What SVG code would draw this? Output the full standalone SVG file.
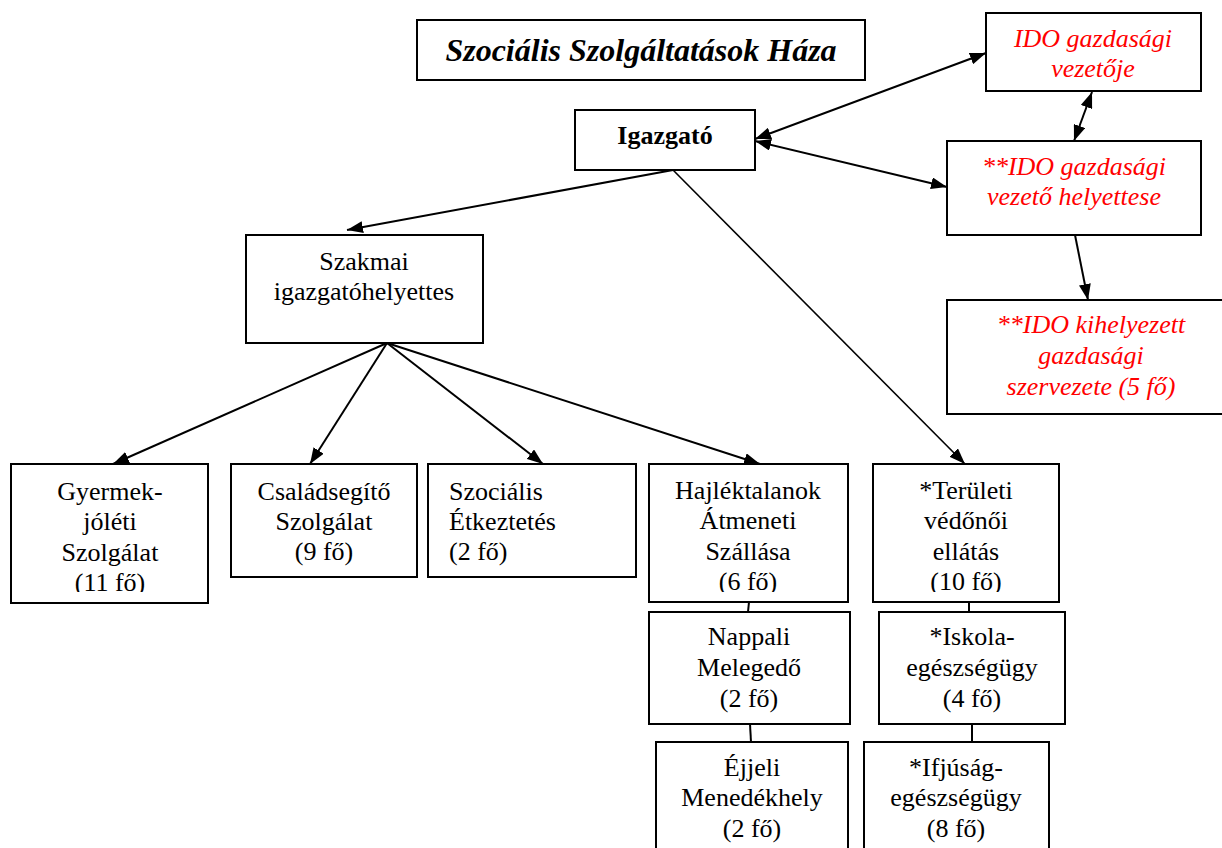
<svg xmlns="http://www.w3.org/2000/svg" width="1222" height="848" viewBox="0 0 1222 848">
<defs>
<marker id="ah" viewBox="0 0 16 12" refX="16" refY="6" markerWidth="16" markerHeight="12" markerUnits="userSpaceOnUse" orient="auto-start-reverse">
<path d="M0,0 L16,6 L0,12 z" fill="#000"/>
</marker>
<clipPath id="clipA"><rect x="0" y="460" width="1222" height="132"/></clipPath>
</defs>
<style>
.box{fill:#fff;stroke:#000;stroke-width:2}
.t{font-family:"Liberation Serif","Times New Roman",serif;font-size:26px;fill:#000;text-anchor:middle}
.r{fill:#ff0000;font-style:italic}
.b{font-weight:bold}
.l{text-anchor:start}
.c{stroke:#000;stroke-width:2;fill:none}
.ca{stroke:#000;stroke-width:2;fill:none;marker-end:url(#ah)}
.cd{stroke:#000;stroke-width:2;fill:none;marker-start:url(#ah);marker-end:url(#ah)}
</style>
<rect width="1222" height="848" fill="#fff"/>

<g id="connectors">
<line class="cd" x1="755" y1="139" x2="986" y2="53"/>
<line class="cd" x1="755" y1="141" x2="947" y2="187"/>
<line class="cd" x1="1092" y1="92" x2="1074" y2="141"/>
<line class="ca" x1="1075" y1="235" x2="1088" y2="300"/>
<line class="ca" x1="673" y1="170" x2="347" y2="230"/>
<line class="ca" x1="673" y1="170" x2="965" y2="464" style="stroke-width:1.6"/>
<line class="ca" x1="387" y1="343" x2="113" y2="464"/>
<line class="ca" x1="387" y1="343" x2="310" y2="464"/>
<line class="ca" x1="387" y1="343" x2="543" y2="464"/>
<line class="ca" x1="387" y1="343" x2="760" y2="464"/>
<line class="c" x1="749" y1="602" x2="748" y2="612"/>
<line class="c" x1="750" y1="724" x2="751" y2="742"/>
<line class="c" x1="969" y1="602" x2="969" y2="612"/>
<line class="c" x1="972" y1="724" x2="972" y2="742"/>
</g>

<g id="title">
<rect class="box" x="417" y="20" width="448" height="60"/>
<text class="t b" x="641" y="61" style="font-style:italic;font-size:32px">Szociális Szolgáltatások Háza</text>
</g>

<g id="igazgato">
<rect class="box" x="575" y="110" width="180" height="60"/>
<text class="t b" x="665" y="144">Igazgató</text>
</g>

<g id="ido-vezeto">
<rect class="box" x="986" y="13" width="215" height="78"/>
<text class="t r" x="1093" y="47">IDO gazdasági</text>
<text class="t r" x="1093" y="77">vezetője</text>
</g>

<g id="ido-helyettes">
<rect class="box" x="947" y="141" width="254" height="94"/>
<text class="t r" x="1074" y="175">**IDO gazdasági</text>
<text class="t r" x="1074" y="205">vezető helyettese</text>
</g>

<g id="ido-kihelyezett">
<rect class="box" x="947" y="300" width="290" height="114"/>
<text class="t r" x="1091" y="333">**IDO kihelyezett</text>
<text class="t r" x="1091" y="364">gazdasági</text>
<text class="t r" x="1091" y="395">szervezete (5 fő)</text>
</g>

<g id="szakmai">
<rect class="box" x="246" y="235" width="237" height="108"/>
<text class="t" x="364" y="270">Szakmai</text>
<text class="t" x="364" y="300">igazgatóhelyettes</text>
</g>

<g id="gyermekjoleti">
<rect class="box" x="11" y="464" width="197" height="139"/>
<g clip-path="url(#clipA)">
<text class="t" x="110" y="500">Gyermek-</text>
<text class="t" x="110" y="530">jóléti</text>
<text class="t" x="110" y="561">Szolgálat</text>
<text class="t" x="110" y="591">(11 fő)</text>
</g>
</g>

<g id="csaladsegito">
<rect class="box" x="231" y="464" width="186" height="113"/>
<text class="t" x="324" y="500">Családsegítő</text>
<text class="t" x="324" y="530">Szolgálat</text>
<text class="t" x="324" y="560">(9 fő)</text>
</g>

<g id="szocialis-etkeztetes">
<rect class="box" x="428" y="464" width="208" height="113"/>
<text class="t l" x="449" y="500">Szociális</text>
<text class="t l" x="449" y="530">Étkeztetés</text>
<text class="t l" x="449" y="560">(2 fő)</text>
</g>

<g id="hajlektalanok">
<rect class="box" x="649" y="464" width="199" height="138"/>
<g clip-path="url(#clipA)">
<text class="t" x="748" y="499">Hajléktalanok</text>
<text class="t" x="748" y="529">Átmeneti</text>
<text class="t" x="748" y="560">Szállása</text>
<text class="t" x="748" y="590">(6 fő)</text>
</g>
</g>

<g id="teruleti">
<rect class="box" x="873" y="464" width="186" height="138"/>
<g clip-path="url(#clipA)">
<text class="t" x="966" y="499">*Területi</text>
<text class="t" x="966" y="529">védőnői</text>
<text class="t" x="966" y="560">ellátás</text>
<text class="t" x="966" y="590">(10 fő)</text>
</g>
</g>

<g id="nappali">
<rect class="box" x="649" y="612" width="201" height="112"/>
<text class="t" x="749" y="645">Nappali</text>
<text class="t" x="749" y="676">Melegedő</text>
<text class="t" x="749" y="707">(2 fő)</text>
</g>

<g id="iskola">
<rect class="box" x="879" y="612" width="186" height="112"/>
<text class="t" x="972" y="645">*Iskola-</text>
<text class="t" x="972" y="676">egészségügy</text>
<text class="t" x="972" y="707">(4 fő)</text>
</g>

<g id="ejjeli">
<rect class="box" x="656" y="742" width="192" height="120"/>
<text class="t" x="752" y="776">Éjjeli</text>
<text class="t" x="752" y="806">Menedékhely</text>
<text class="t" x="752" y="837">(2 fő)</text>
</g>

<g id="ifjusag">
<rect class="box" x="864" y="742" width="185" height="120"/>
<text class="t" x="956" y="776">*Ifjúság-</text>
<text class="t" x="956" y="806">egészségügy</text>
<text class="t" x="956" y="837">(8 fő)</text>
</g>
</svg>
